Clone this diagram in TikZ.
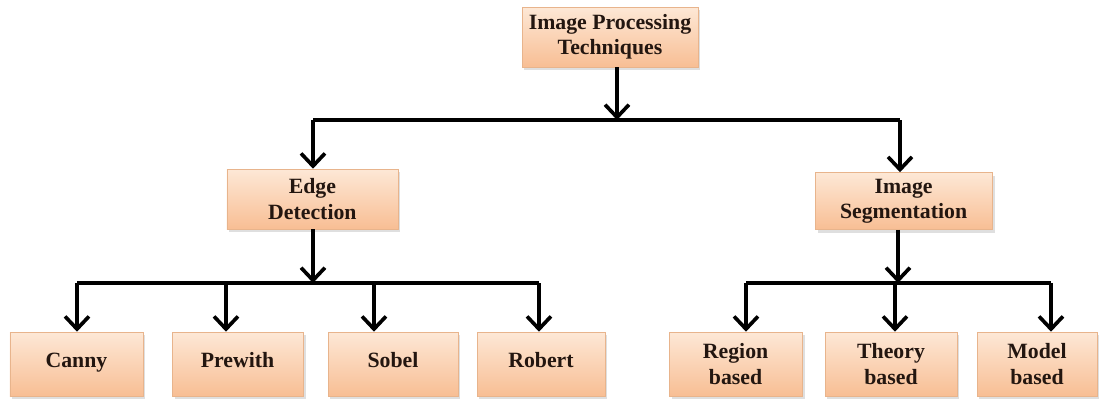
\documentclass[tikz,border=0pt]{standalone}
\usepackage{fontspec}
\setmainfont{Liberation Serif}
\usepackage{xcolor}
\usetikzlibrary{
    positioning,
    arrows.meta,
    calc,
    shadows
}
\definecolor{peachTop}{RGB}{253, 232, 214}
\definecolor{peachBot}{RGB}{248, 190, 148}
\definecolor{peachLine}{RGB}{232, 180, 140}
\definecolor{inkDark}{RGB}{35, 22, 16}

\tikzset{
    techbox/.style={draw=peachLine, thin, top color=peachTop, bottom color=peachBot,
        drop shadow={opacity=0.25, shadow xshift=0.6mm, shadow yshift=-0.8mm},
        align=center, text=inkDark, font=\bfseries\fontsize{15.5}{18}\selectfont,
        inner sep=0pt},
    leafbox/.style={techbox, minimum height=1.6cm, text height=0.7em, text depth=0.25em},
    link/.style={line width=2.6pt, black},
    arr/.style={link, -{Straight Barb[length=9pt,width=17pt,line width=2.6pt]}}
}

\begin{document}
\begin{tikzpicture}
        \useasboundingbox (0,0) rectangle (27.5,-9.95);

        % Root
        \node[techbox, minimum width=4.4cm, minimum height=1.5cm] (tech) at (15.25,-0.925) {Image Processing\\Techniques};

        % Second level
        \node[techbox, minimum width=4.275cm, minimum height=1.5cm] (edge) at (7.81,-4.975) {Edge\\Detection};
        \node[techbox, minimum width=4.425cm, minimum height=1.425cm] (seg) at (22.59,-5.025) {Image\\Segmentation};

        % Edge detection operators
        \node[leafbox, minimum width=3.325cm] (canny) at (1.91,-9.1) {Canny};
        \node[leafbox, minimum width=3.275cm] (prewith) at (5.94,-9.1) {Prewith};
        \node[leafbox, minimum width=3.25cm] (sobel) at (9.825,-9.1) {Sobel};
        \node[leafbox, minimum width=3.2cm] (robert) at (13.525,-9.1) {Robert};

        % Segmentation methods
        \node[techbox, minimum width=3.325cm, minimum height=1.6cm] (region) at (18.39,-9.1) {Region\\based};
        \node[techbox, minimum width=3.3cm, minimum height=1.6cm] (theory) at (22.275,-9.1) {Theory\\based};
        \node[techbox, minimum width=3.0cm, minimum height=1.6cm] (model) at (25.925,-9.1) {Model\\based};

        % Junction points
        \coordinate (t0) at (15.425,-3.0);
        \coordinate (tL) at (7.825,-3.0);
        \coordinate (tR) at (22.5,-3.0);
        \coordinate (e0) at (7.825,-7.075);
        \coordinate (e1) at (1.925,-7.075);
        \coordinate (e2) at (5.65,-7.075);
        \coordinate (e3) at (9.35,-7.075);
        \coordinate (e4) at (13.475,-7.075);
        \coordinate (s0) at (22.45,-7.075);
        \coordinate (s1) at (18.65,-7.075);
        \coordinate (s2) at (22.375,-7.075);
        \coordinate (s3) at (26.275,-7.075);

        % Root to second level
        \draw[arr] (tech.south -| t0) -- (t0);
        \draw[link] (tL) -- (tR);
        \draw[arr] (tL) -- (tL |- edge.north);
        \draw[arr] (tR) -- (tR |- seg.north);

        % Edge detection branch
        \draw[arr] (edge.south -| e0) -- (e0);
        \draw[link] (e1) -- (e4);
        \draw[arr] (e1) -- (e1 |- canny.north);
        \draw[arr] (e2) -- (e2 |- prewith.north);
        \draw[arr] (e3) -- (e3 |- sobel.north);
        \draw[arr] (e4) -- (e4 |- robert.north);

        % Segmentation branch
        \draw[arr] (seg.south -| s0) -- (s0);
        \draw[link] (s1) -- (s3);
        \draw[arr] (s1) -- (s1 |- region.north);
        \draw[arr] (s2) -- (s2 |- theory.north);
        \draw[arr] (s3) -- (s3 |- model.north);
    \end{tikzpicture}
\end{document}
